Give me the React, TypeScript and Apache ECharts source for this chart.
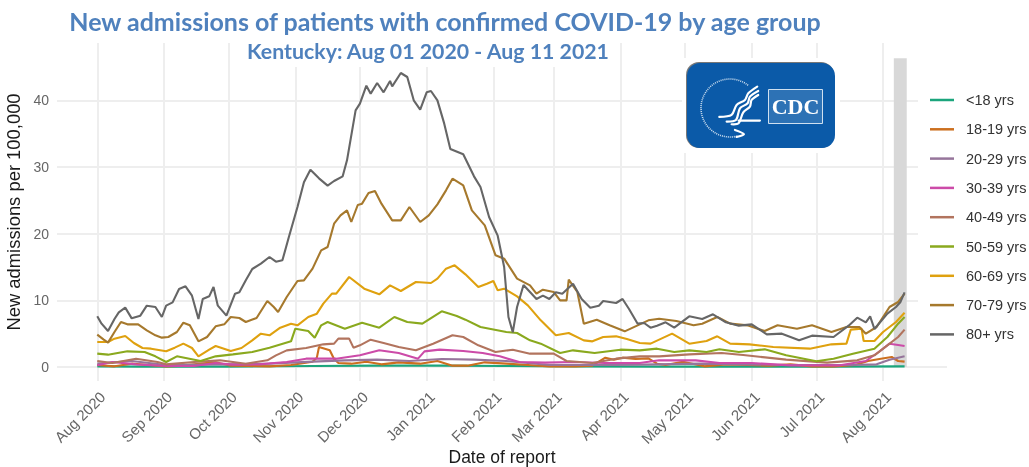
import React, { useEffect, useRef } from "react";
import * as echarts from "echarts";

const monthDays = [0, 31, 61, 92, 122, 153, 184, 212, 243, 273, 304, 334, 365];
const monthLabels = [
  "Aug 2020", "Sep 2020", "Oct 2020", "Nov 2020", "Dec 2020", "Jan 2021", "Feb 2021",
  "Mar 2021", "Apr 2021", "May 2021", "Jun 2021", "Jul 2021", "Aug 2021",
];
const yTicks = [0, 10, 20, 30, 40];

const under18Days = [0, 20, 40, 60, 100, 130, 160, 190, 220, 260, 300, 340, 375];
const under18Vals = [0.1, 0.05, 0.05, 0.05, 0.15, 0.2, 0.2, 0.15, 0.1, 0.05, 0.05, 0.05, 0.1];

const age18Days = [0, 8, 16, 24, 32, 40, 48, 55, 62, 70, 80, 90, 100, 102, 103, 108, 110, 112, 118, 125, 132, 140, 150, 158, 165, 172, 180, 190, 200, 210, 222, 230, 236, 240, 244, 250, 256, 260, 264, 272, 282, 292, 302, 312, 322, 332, 342, 352, 358, 364, 369, 372, 375];
const age18Vals = [0.3, 0.1, 0.5, 0.3, 0.1, 0.2, 0.5, 0.7, 0.2, 0.15, 0.1, 0.3, 0.8, 1.4, 3.0, 2.5, 1.2, 0.6, 0.5, 0.8, 0.4, 0.7, 0.5, 0.9, 0.2, 0.2, 0.7, 0.5, 0.3, 0.1, 0.1, 0.2, 1.4, 1.1, 1.4, 1.2, 1.3, 0.5, 0.3, 0.8, 0.1, 0.4, 0.3, 0.2, 0.4, 0.1, 0.1, 0.3, 0.9, 1.25, 1.5, 0.9, 0.8];

const age20Days = [0, 16, 32, 60, 80, 100, 115, 130, 145, 160, 175, 190, 210, 240, 260, 280, 300, 320, 350, 362, 368, 375];
const age20Vals = [0.5, 0.9, 0.3, 0.4, 0.5, 0.8, 1.0, 1.1, 0.9, 1.2, 1.1, 0.9, 0.3, 0.3, 0.4, 0.5, 0.4, 0.3, 0.3, 0.4, 1.1, 1.6];

const age30Days = [0, 7, 18, 32, 45, 55, 63, 75, 88, 97, 111, 122, 131, 140, 149, 152, 159, 170, 179, 187, 196, 208, 221, 236, 252, 261, 278, 289, 304, 322, 345, 357, 363, 368, 372, 375];
const age30Vals = [0.25, 0.75, 0.4, 0.15, 0.15, 0.6, 0.35, 0.4, 0.75, 1.25, 1.25, 1.75, 2.5, 2.1, 1.25, 2.35, 2.6, 2.4, 2.1, 1.6, 0.75, 0.65, 0.75, 0.6, 0.6, 1.0, 1.0, 0.6, 0.6, 0.25, 0.25, 0.9, 2.25, 3.5, 3.3, 3.15];

const age40Days = [0, 7, 18, 28, 32, 45, 57, 69, 79, 83, 88, 97, 105, 110, 112, 117, 119, 122, 127, 133, 140, 148, 156, 165, 170, 177, 185, 193, 201, 212, 218, 230, 241, 252, 261, 275, 290, 300, 320, 339, 353, 361, 367, 372, 375];
const age40Vals = [0.9, 0.6, 1.25, 0.75, 0.4, 0.75, 1, 0.5, 1, 1.75, 2.5, 2.85, 3.4, 3.5, 4.25, 4.25, 2.9, 3.25, 4.1, 3.6, 3, 2.5, 3.5, 4.75, 4.5, 3.25, 2.25, 2.6, 2, 2, 0.9, 0.6, 1.25, 1.6, 1.6, 1.9, 2.1, 1.8, 1.1, 0.65, 1, 1.75, 3.25, 4.5, 5.6];

const age50Days = [0, 5, 14, 22, 27, 32, 37, 48, 55, 63, 72, 80, 90, 92, 98, 101, 104, 107, 115, 123, 131, 138, 144, 151, 160, 167, 171, 178, 190, 195, 201, 206, 215, 221, 231, 243, 252, 260, 268, 275, 283, 289, 298, 310, 320, 334, 342, 351, 361, 367, 372, 375];
const age50Vals = [2, 1.85, 2.35, 2.25, 1.6, 0.75, 1.6, 0.9, 1.6, 1.9, 2.25, 2.9, 3.85, 5.75, 5.4, 4.4, 6.25, 6.75, 5.75, 6.65, 5.9, 7.5, 6.75, 6.5, 8.35, 7.65, 7.1, 6, 5.25, 5.1, 4, 3.5, 2.1, 2.5, 2.1, 2.6, 2.5, 2.75, 2.25, 2.5, 2.25, 2.65, 2.25, 2.65, 1.75, 0.85, 1.25, 2, 2.75, 4.5, 6.5, 7.5];

const age60Days = [0, 5, 8, 13, 17, 21, 25, 32, 36, 40, 44, 47, 52, 55, 62, 67, 72, 76, 80, 85, 90, 93, 98, 102, 105, 109, 111, 117, 124, 131, 136, 141, 148, 155, 158, 162, 166, 171, 177, 181, 184, 186, 189, 195, 200, 206, 213, 219, 226, 230, 235, 241, 246, 252, 257, 267, 275, 283, 288, 294, 303, 314, 331, 341, 348, 350, 355, 356, 361, 365, 371, 375];
const age60Vals = [3.75, 3.75, 4.25, 4.65, 3.6, 2.85, 2.75, 2.35, 2.9, 3.5, 2.85, 1.6, 2.6, 3.15, 2.4, 2.85, 4, 5, 4.75, 5.9, 6.5, 6.25, 7.5, 8, 9.5, 11, 11, 13.5, 11.75, 10.9, 12.25, 11.4, 12.75, 12.6, 13.25, 14.75, 15.25, 13.9, 12, 12.5, 12.9, 11.5, 11.75, 10.6, 9.25, 7, 4.75, 5.1, 4, 3.85, 4.5, 4.6, 4.2, 3.6, 3.5, 5, 3.5, 3.9, 4.6, 3.5, 3.4, 3, 2.75, 3.4, 3.5, 5.6, 5.75, 3.9, 3.9, 5.25, 6.75, 8.15];

const age70Days = [0, 3, 5, 8, 11, 14, 19, 23, 27, 30, 33, 37, 40, 43, 47, 51, 55, 59, 62, 66, 69, 74, 79, 82, 84, 88, 93, 96, 100, 104, 107, 110, 113, 116, 118, 121, 123, 126, 129, 132, 137, 141, 145, 150, 154, 158, 162, 165, 170, 174, 180, 185, 189, 195, 201, 204, 207, 212, 215, 218, 219, 223, 226, 232, 238, 245, 251, 256, 261, 269, 277, 281, 288, 294, 302, 310, 316, 325, 332, 341, 348, 354, 357, 362, 368, 372, 375];
const age70Vals = [4.85, 4.1, 3.65, 5.25, 6.75, 6.4, 6.4, 5.5, 4.75, 4.4, 4.5, 5.25, 6.65, 6.25, 3.85, 4.5, 6.1, 6.4, 7.5, 7.35, 6.75, 7.35, 9.9, 9, 8.25, 10.5, 12.9, 13, 14.75, 17.5, 18, 21.5, 22.75, 23.5, 21.75, 24.3, 24.5, 26.1, 26.4, 24.5, 22, 22, 24, 21.75, 22.75, 24.4, 26.5, 28.25, 27.25, 23.5, 21.25, 16.75, 16.25, 13.25, 12.25, 11, 11.6, 11.25, 10, 10, 13.1, 11.25, 6.5, 7.1, 6.25, 5.35, 6.25, 7, 7.25, 6.9, 6.25, 6.5, 7.5, 6.5, 6.25, 5.4, 6.25, 5.75, 6.25, 5.25, 6, 6, 5, 6, 9, 9.75, 11];

const age80Days = [0, 2, 5, 8, 10, 13, 16, 20, 23, 27, 30, 32, 35, 38, 41, 44, 47, 49, 52, 54, 56, 60, 64, 66, 69, 72, 76, 80, 83, 86, 89, 93, 96, 99, 103, 107, 110, 114, 116, 120, 122, 125, 127, 130, 133, 136, 137, 141, 144, 147, 150, 153, 155, 158, 161, 164, 170, 175, 178, 182, 186, 189, 191, 193, 195, 198, 204, 207, 210, 213, 216, 221, 225, 229, 233, 235, 241, 244, 247, 251, 254, 257, 260, 264, 268, 275, 281, 286, 292, 298, 304, 311, 318, 326, 332, 342, 349, 353, 357, 359, 361, 367, 371, 373, 375];
const age80Vals = [7.6, 6.5, 5.4, 7.2, 8.2, 8.9, 7.3, 7.7, 9.2, 9, 7.5, 9.2, 9.7, 11.7, 12.1, 10.7, 7.2, 10.2, 10.6, 12, 9.2, 7.7, 11, 11.2, 13, 14.7, 15.5, 16.5, 15.8, 16, 19.5, 24, 27.7, 29.6, 28.3, 27.2, 27.9, 28.6, 31, 38.5, 39.5, 42.2, 41, 42.6, 41.2, 42.9, 42.1, 44.1, 43.5, 40, 38.6, 41.2, 41.4, 40, 36.7, 32.7, 31.9, 28.6, 27, 22.5, 19.7, 15, 7.5, 5.2, 9, 12.3, 10.2, 10.7, 10.2, 11.2, 11, 12.5, 10.2, 8.9, 9.2, 9.9, 9.6, 10.2, 8.7, 6.5, 6.6, 5.9, 6.2, 6.7, 5.9, 7.6, 7.2, 7.9, 6.7, 6.2, 6.4, 4.9, 5, 4, 4.7, 4.5, 6.2, 7.4, 6.7, 7.6, 5.7, 8, 9, 9.7, 11.2];

const seriesNames = ["<18 yrs", "18-19 yrs", "20-29 yrs", "30-39 yrs", "40-49 yrs", "50-59 yrs", "60-69 yrs", "70-79 yrs", "80+ yrs"];
const seriesColors = ["#1ba57c", "#cc6f1f", "#96759b", "#cc4ba8", "#b2745e", "#8aa91e", "#dfa10f", "#a6792d", "#666666"];
const seriesDays = [under18Days, age18Days, age20Days, age30Days, age40Days, age50Days, age60Days, age70Days, age80Days];
const seriesVals = [under18Vals, age18Vals, age20Vals, age30Vals, age40Vals, age50Vals, age60Vals, age70Vals, age80Vals];

const reportBandDays = [370, 376];
const reportBandTop = 46.3;

const logoStrands = [
  [[232, 95], [205, 115], [195, 135], [170, 150], [155, 180], [118, 186]],
  [[235, 108], [210, 125], [203, 145], [180, 160], [168, 195], [140, 200]],
  [[235, 120], [215, 135], [210, 155], [190, 172], [176, 205], [155, 208]],
  [[176, 197], [240, 197]],
  [[165, 225], [192, 238], [170, 246]],
];

export default function App() {
  const ref = useRef<HTMLDivElement>(null);
  useEffect(() => {
    const chart = echarts.init(ref.current!, undefined, { renderer: "svg" });
    const white = { fill: "#ffffff" };
    chart.setOption({
      animation: false,
      backgroundColor: "#ffffff",
      title: [
        {
          text: "New admissions of patients with confirmed COVID-19 by age group",
          left: 440, top: 3, textAlign: "center",
          textStyle: { fontFamily: "Lato", fontWeight: "bold", fontSize: 25, color: "#4f81bd" },
        },
        {
          text: "Kentucky: Aug 01 2020 - Aug 11 2021",
          left: 423, top: 35, textAlign: "center",
          textStyle: { fontFamily: "Lato", fontWeight: "bold", fontSize: 21.3, color: "#4f81bd" },
        },
      ],
      grid: { left: 57, right: 82, top: 43, bottom: 86, outerBoundsMode: "none" },
      legend: {
        orient: "vertical", left: 925, top: 87, itemWidth: 24, itemHeight: 2.5, itemGap: 13.3,
        icon: "rect",
        data: seriesNames,
        textStyle: { fontFamily: "Liberation Sans", fontSize: 14.5, color: "#333333", padding: [0, 0, 0, 7], lineHeight: 16 },
      },
      xAxis: {
        type: "value",
        z: 0,
        min: -18.7,
        max: 394.7,
        name: "Date of report",
        nameLocation: "middle",
        nameGap: 67,
        nameMoveOverlap: false,
        nameTextStyle: { fontFamily: "Liberation Sans", fontSize: 17.5, color: "#1a1a1a" },
        axisLine: { show: false },
        axisTick: { show: false, customValues: monthDays },
        splitLine: { show: true, lineStyle: { color: "#eeeeee", width: 2 } },
        axisLabel: {
          customValues: monthDays,
          rotate: 45,
          margin: 8,
          align: "right",
          verticalAlign: "top",
          fontFamily: "Liberation Sans",
          fontSize: 15,
          color: "#666666",
          hideOverlap: false,
          formatter: (v: number) => monthLabels[monthDays.indexOf(v)] ?? "",
        },
      },
      yAxis: {
        type: "value",
        z: 0,
        min: -2.1,
        max: 48.6,
        name: "New admissions per 100,000",
        nameLocation: "middle",
        nameGap: 28,
        nameTextStyle: { fontFamily: "Liberation Sans", fontSize: 18.4, color: "#1a1a1a" },
        axisLine: { show: false },
        axisTick: { show: false, customValues: yTicks },
        splitLine: { show: true, lineStyle: { color: "#eeeeee", width: 2 } },
        axisLabel: {
          customValues: yTicks,
          margin: 8,
          fontFamily: "Liberation Sans",
          fontSize: 14,
          color: "#666666",
        },
      },
      series: seriesNames.map((name, i) => ({
        name,
        type: "line",
        showSymbol: false,
        symbol: "none",
        lineStyle: { width: 2.1, color: seriesColors[i] },
        itemStyle: { color: seriesColors[i] },
        emphasis: { disabled: true },
        data: seriesDays[i].map((d, k) => [d, seriesVals[i][k]]),
        ...(i === 0
          ? {
              markArea: {
                silent: true,
                itemStyle: { color: "#d8d8d8" },
                data: [[
                  { xAxis: reportBandDays[0], yAxis: 0 },
                  { xAxis: reportBandDays[1], yAxis: reportBandTop },
                ]],
              },
            }
          : {}),
      })),
      graphic: {
        z: 3,
        elements: [
          { type: "rect", z: 3, shape: { x: 240, y: 0, width: 375, height: 67 }, style: white, silent: true },
          { type: "rect", z: 3, shape: { x: 918, y: 40, width: 40, height: 312 }, style: white, silent: true },
          { type: "rect", z: 3, shape: { x: 682, y: 58, width: 158, height: 95 }, style: white, silent: true },
          { type: "rect", z: 3, shape: { x: 686, y: 62, width: 148, height: 86, r: 13 }, style: { fill: "#777777" }, silent: true },
          { type: "rect", z: 3, shape: { x: 687, y: 63, width: 148, height: 85, r: 13 }, style: { fill: "#0b5aa8" }, silent: true },
          { type: "rect", z: 3, shape: { x: 768.5, y: 89.5, width: 54, height: 34 }, style: { fill: "#2d72b5", stroke: "#cfe0f0", lineWidth: 1 }, silent: true },
          {
            type: "text", z: 3, x: 795.5, y: 106,
            style: { text: "CDC", fill: "#ffffff", fontFamily: "Liberation Serif", fontWeight: "bold", fontSize: 22, align: "center", verticalAlign: "middle" },
            silent: true,
          },
          {
            type: "arc", z: 3, shape: { cx: 730, cy: 108, r: 29, startAngle: -0.9, endAngle: 1.3, clockwise: false },
            style: { fill: "none", stroke: "#cfe0f0", lineWidth: 1.6, lineDash: [1, 1] },
            silent: true,
          },
          {
            type: "group", x: 680, y: 55, scaleX: 1 / 3, scaleY: 1 / 3, silent: true,
            children: logoStrands.map((points) => ({
              type: "polyline",
              z: 3,
              shape: { points, smooth: 0.3 },
              style: { fill: "none", stroke: "#ffffff", lineWidth: 6.5, lineCap: "round" },
              silent: true,
            })),
          },
        ],
      },
    });
    return () => chart.dispose();
  }, []);
  return <div ref={ref} style={{ position: "fixed", left: 0, top: 0, width: 1029, height: 467, filter: "blur(0.4px)" }} />;
}
